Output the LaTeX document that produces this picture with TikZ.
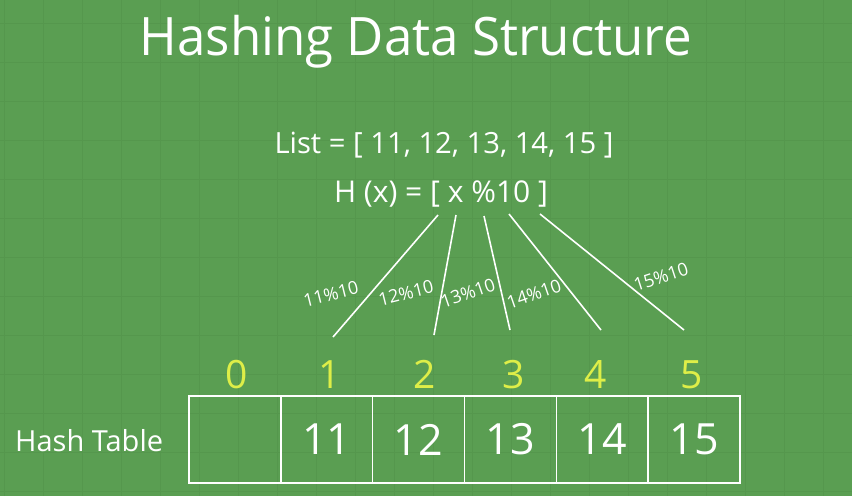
\documentclass[tikz,border=0pt]{standalone}
\usepackage{fontspec}
\setmainfont{Open Sans}
\definecolor{bg}{RGB}{90,158,82}
\definecolor{gridc}{RGB}{85,151,77}
\definecolor{idx}{RGB}{222,238,72}
\begin{document}
\begin{tikzpicture}[x=1pt,y=-1pt,
  txt/.style={text=white,inner sep=0pt,anchor=base},
  lbl/.style={text=white,inner sep=0pt,font=\fontsize{18}{18}\selectfont},
  idxlbl/.style={text=idx,inner sep=0pt,anchor=base,font=\fontsize{39}{39}\selectfont},
  cell/.style={draw=white,line width=1.6pt,minimum width=91.83pt,minimum height=87pt,inner sep=0pt,text=white,font=\fontsize{43}{43}\selectfont},
  hline/.style={draw=white,line width=1.6pt}]
\fill[bg] (0,0) rectangle (852,496);
\useasboundingbox (0,0) rectangle (852,496);
\foreach \gx in {4,43,...,852} \draw[gridc,line width=1pt] (\gx,0) -- (\gx,496);
\foreach \gy in {23,62,...,496} \draw[gridc,line width=1pt] (0,\gy) -- (852,\gy);
% title and formulas
\node[txt,font=\fontsize{53}{53}\selectfont] (title) at (416,55) {\scalebox{0.963}[1]{Hashing Data Structure}};
\node[txt,font=\fontsize{29.2}{29.2}\selectfont] (list) at (444,153) {List = [ 11, 12, 13, 14, 15 ]};
\node[txt,font=\fontsize{30}{30}\selectfont] (hx) at (441,202) {H (x) = [ x \%10 ]};
% table
\foreach \i/\v in {0/,1/11,2/12,3/13,4/14,5/15}
  \node[cell] (c\i) at ({189+91.83*(\i+0.5)},439.5) {\v};
\foreach \i/\xx in {0/237,1/330,2/425,3/514,4/596,5/692}
  \node[idxlbl] (i\i) at (\xx,388) {\i};
\node[txt,anchor=base west,font=\fontsize{29}{29}\selectfont] (ht) at (15,451) {Hash Table};
% connectors
\coordinate (s1) at (438,215); \coordinate (e1) at (333,337);
\coordinate (s2) at (456,215); \coordinate (e2) at (434,335);
\coordinate (s3) at (484,216); \coordinate (e3) at (510,330);
\coordinate (s4) at (509,214); \coordinate (e4) at (601,330);
\coordinate (s5) at (540,214); \coordinate (e5) at (684,330);
\foreach \k in {1,...,5} \draw[hline] (s\k) -- (e\k);
\node[lbl,rotate=14] (l1) at (331,294) {11\%10};
\node[lbl,rotate=14] (l2) at (406,293) {12\%10};
\node[lbl,rotate=19] (l3) at (468,293) {13\%10};
\node[lbl,rotate=19] (l4) at (534,294) {14\%10};
\node[lbl,rotate=18] (l5) at (661,277) {15\%10};
\end{tikzpicture}
\end{document}
